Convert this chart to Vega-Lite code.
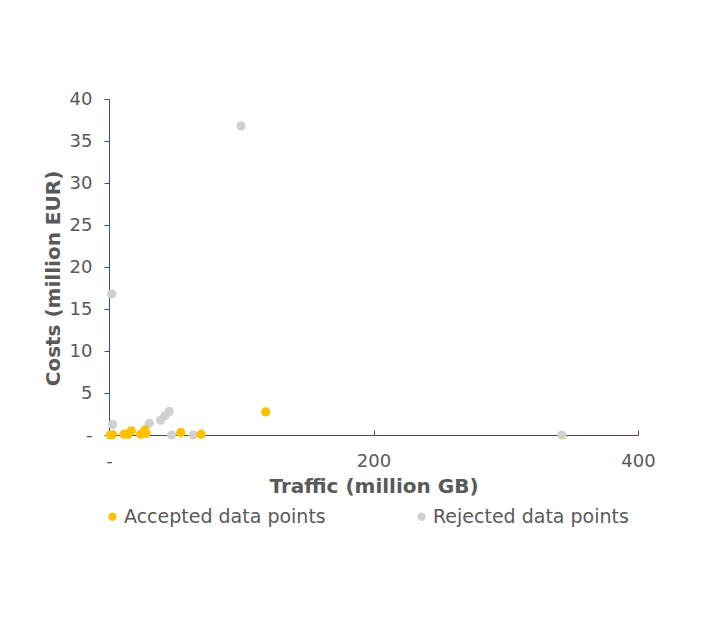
{
  "$schema": "https://vega.github.io/schema/vega-lite/v6.json",
  "width": 529,
  "height": 336,
  "autosize": {"type": "none"},
  "padding": {"left": 109, "top": 99, "right": 87, "bottom": 183},
  "background": "white",
  "config": {
    "view": {"stroke": null},
    "font": "DejaVu Sans",
    "axis": {"grid": false, "domainColor": "#2F4F8F", "tickColor": "#2F4F8F", "labelColor": "#595959", "titleColor": "#595959", "labelFontSize": 18, "titleFontSize": 20, "titleFontWeight": "bold", "labelFont": "DejaVu Sans", "titleFont": "DejaVu Sans"}
  },
  "data": {
    "values": [
      {"traffic": 1, "cost": 0.0, "status": "Accepted data points"},
      {"traffic": 2.8, "cost": 0.05, "status": "Accepted data points"},
      {"traffic": 11.3, "cost": 0.1, "status": "Accepted data points"},
      {"traffic": 14.6, "cost": 0.1, "status": "Accepted data points"},
      {"traffic": 16.9, "cost": 0.5, "status": "Accepted data points"},
      {"traffic": 24, "cost": 0.1, "status": "Accepted data points"},
      {"traffic": 27.2, "cost": 0.6, "status": "Accepted data points"},
      {"traffic": 28, "cost": 0.2, "status": "Accepted data points"},
      {"traffic": 54.2, "cost": 0.3, "status": "Accepted data points"},
      {"traffic": 69.6, "cost": 0.1, "status": "Accepted data points"},
      {"traffic": 118.5, "cost": 2.75, "status": "Accepted data points"},
      {"traffic": 2, "cost": 16.8, "status": "Rejected data points"},
      {"traffic": 99.8, "cost": 36.8, "status": "Rejected data points"},
      {"traffic": 2.8, "cost": 1.25, "status": "Rejected data points"},
      {"traffic": 30.5, "cost": 1.4, "status": "Rejected data points"},
      {"traffic": 39, "cost": 1.75, "status": "Rejected data points"},
      {"traffic": 42.3, "cost": 2.3, "status": "Rejected data points"},
      {"traffic": 45.5, "cost": 2.8, "status": "Rejected data points"},
      {"traffic": 47.4, "cost": 0.0, "status": "Rejected data points"},
      {"traffic": 63.7, "cost": 0.0, "status": "Rejected data points"},
      {"traffic": 342.5, "cost": 0.0, "status": "Rejected data points"}
    ]
  },
  "mark": {"type": "circle", "size": 85, "opacity": 1},
  "encoding": {
    "x": {
      "field": "traffic", "type": "quantitative",
      "scale": {"domain": [0, 400], "nice": false, "zero": true},
      "axis": {"values": [0, 200, 400], "labelExpr": "datum.value == 0 ? '-' : datum.label", "tickSize": -5, "labelPadding": 22, "title": "Traffic (million GB)", "titlePadding": 6, "labelFlush": false}
    },
    "y": {
      "field": "cost", "type": "quantitative",
      "scale": {"domain": [0, 40], "nice": false},
      "axis": {"values": [0, 5, 10, 15, 20, 25, 30, 35, 40], "labelExpr": "datum.value == 0 ? '-' : datum.label", "tickSize": 5, "labelPadding": 12, "title": "Costs (million EUR)", "titlePadding": 6, "titleY": 179}
    },
    "color": {
      "field": "status", "type": "nominal",
      "scale": {"domain": ["Accepted data points", "Rejected data points"], "range": ["#FFC000", "#D0D0D0"]},
      "legend": {"orient": "none", "legendX": -6, "legendY": 408, "direction": "horizontal", "title": null, "columns": 2, "columnPadding": 86, "labelFontSize": 19, "labelColor": "#595959", "labelLimit": 0, "symbolType": "circle", "symbolSize": 70, "labelOffset": 2}
    },
    "order": {"field": "status", "sort": "descending"}
  }
}
